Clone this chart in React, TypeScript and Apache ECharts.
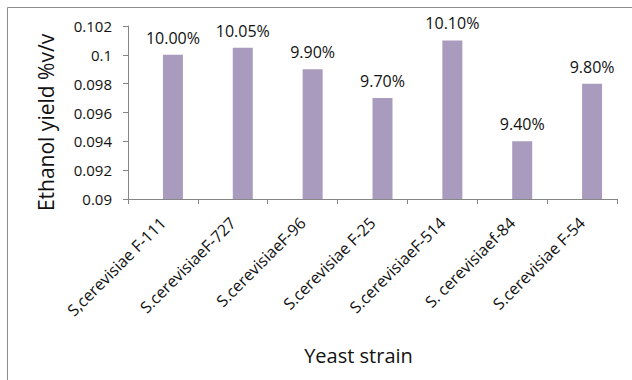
import React, { useEffect, useRef } from "react";
import * as echarts from "echarts";

const categories = [
  "S,cerevisiae F-111",
  "S.cerevisiaeF-727",
  "S.cerevisiaeF-96",
  "S.cerevisiae F-25",
  "S.cerevisiaeF-514",
  "S. cerevisiaef-84",
  "S.cerevisiae F-54",
];
const values = [0.1, 0.1005, 0.099, 0.097, 0.101, 0.094, 0.098];
const emptySeries = [null, null, null, null, null, null, null];
const valueLabels = ["10.00%", "10.05%", "9.90%", "9.70%", "10.10%", "9.40%", "9.80%"];
const yTicks = { min: 0.09, max: 0.102, interval: 0.002 };

const FONT = "Open Sans";

export default function App() {
  const ref = useRef<HTMLDivElement>(null);
  useEffect(() => {
    document.body.style.margin = "0";
    const chart = echarts.init(ref.current!, null, { renderer: "svg" });
    chart.setOption({
      animation: false,
      backgroundColor: "#ffffff",
      textStyle: { fontFamily: FONT },
      grid: { left: 128, top: 26, right: 15, bottom: 181, containLabel: false },
      graphic: [
        {
          type: "rect",
          shape: { x: 7.5, y: 7.5, width: 700, height: 500 },
          style: { fill: "none", stroke: "#8c8c8c", lineWidth: 1 },
          silent: true,
          z: -1,
        },
      ],
      xAxis: {
        type: "category",
        data: categories,
        name: "Yeast strain",
        nameLocation: "middle",
        nameGap: 146,
        nameTextStyle: { fontSize: 20, color: "#111", fontFamily: FONT, padding: [0, 28, 0, 0] },
        axisLine: { lineStyle: { color: "#868686" } },
        axisTick: { show: true, length: 5, alignWithLabel: false, lineStyle: { color: "#868686" } },
        axisLabel: {
          interval: 0,
          rotate: 45,
          fontSize: 16,
          color: "#111",
          margin: 21,
          fontFamily: FONT,
        },
      },
      yAxis: {
        type: "value",
        min: yTicks.min,
        max: yTicks.max,
        interval: yTicks.interval,
        name: "Ethanol yield %v/v",
        nameLocation: "middle",
        nameRotate: 90,
        nameGap: 72,
        nameTextStyle: { fontSize: 21, color: "#111", fontFamily: FONT, padding: [0, 20, 0, 0] },
        splitLine: { show: false },
        axisLine: { show: true, lineStyle: { color: "#868686" } },
        axisTick: { show: true, length: 5, lineStyle: { color: "#868686" } },
        axisLabel: {
          fontSize: 15,
          color: "#111",
          margin: 16,
          fontFamily: FONT,
          formatter: (v: number) => String(+v.toFixed(3)),
        },
      },
      series: [
        {
          type: "bar",
          data: emptySeries,
          barWidth: 20,
          barGap: "0%",
          itemStyle: { color: "#4F81BD" },
        },
        {
          type: "bar",
          data: values,
          barWidth: 20,
          barGap: "0%",
          itemStyle: { color: "#A99BBE" },
          label: {
            show: true,
            position: "top",
            distance: 9,
            fontSize: 16,
            color: "#111",
            fontFamily: FONT,
            formatter: (p: any) => valueLabels[p.dataIndex],
          },
        },
      ],
    });
    return () => chart.dispose();
  }, []);
  return <div ref={ref} style={{ width: 632, height: 380 }} />;
}
